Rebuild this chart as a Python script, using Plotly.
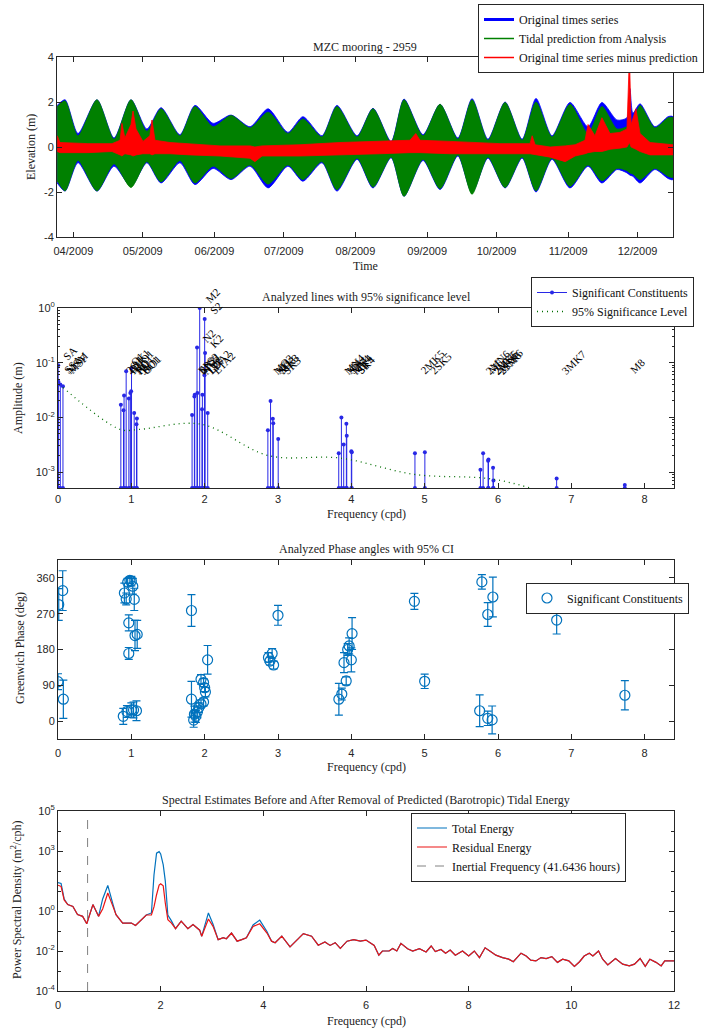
import math
import plotly.graph_objects as go

W, H = 718, 1030

# ---------------- Panel 1: time series envelopes (m) ----------------
env_dates = [
    "2009-03-25 00:00", "2009-03-28 10:00", "2009-04-03 00:00", "2009-04-11 05:00",
    "2009-04-18 14:00", "2009-04-25 22:00", "2009-05-02 19:00", "2009-05-08 22:00",
    "2009-05-17 02:00", "2009-05-23 14:00", "2009-05-31 10:00", "2009-06-08 05:00",
    "2009-06-16 10:00", "2009-06-24 05:00", "2009-07-02 19:00", "2009-07-09 07:00",
    "2009-07-17 12:00", "2009-07-24 00:00", "2009-08-01 17:00", "2009-08-08 14:00",
    "2009-08-16 10:00", "2009-08-22 00:00", "2009-08-30 05:00", "2009-09-06 14:00",
    "2009-09-14 07:00", "2009-09-20 10:00", "2009-09-27 07:00", "2009-10-04 17:00",
    "2009-10-12 02:00", "2009-10-18 02:00", "2009-10-25 00:00", "2009-11-01 19:00",
    "2009-11-09 14:00", "2009-11-15 14:00", "2009-11-22 02:00", "2009-11-26 10:00",
    "2009-11-27 17:00", "2009-11-29 00:00", "2009-12-02 02:00", "2009-12-08 12:00",
    "2009-12-14 05:00", "2009-12-16 07:00",
]
blue_upper = [1.85, 2.1, 0.6, 2.1, 0.4, 2.1, 0.8, 1.75, 0.55, 1.85, 1.05, 1.42, 0.9, 1.7,
              0.65, 1.35, 0.5, 1.85, 0.5, 1.72, 0.25, 2.13, 0.55, 1.9, 0.4, 2.15, 0.35, 2.0,
              0.35, 2.16, 0.5, 1.98, 0.9, 1.98, 1.2, 1.3, 2.6, 1.5, 1.92, 0.9, 1.35, 1.35]
blue_lower = [-1.6, -1.96, -0.7, -1.96, -0.85, -1.75, -0.7, -1.6, -0.7, -1.67, -0.95, -1.45,
              -0.85, -1.82, -0.85, -1.52, -0.7, -1.96, -0.55, -1.82, -0.48, -2.19, -0.6, -1.89,
              -0.4, -2.04, -0.5, -1.82, -0.5, -2.0, -0.55, -1.82, -0.85, -1.6, -1.0, -1.15,
              -1.25, -1.3, -1.6, -1.0, -1.4, -1.45]
green_upper = [1.8, 2.05, 0.5, 2.1, 0.35, 2.1, 0.7, 1.7, 0.5, 1.8, 0.9, 1.4, 0.85, 1.55,
               0.6, 1.25, 0.45, 1.8, 0.45, 1.7, 0.2, 2.1, 0.5, 1.9, 0.35, 2.1, 0.3, 1.98,
               0.3, 2.0, 0.45, 1.9, 0.6, 1.8, 0.8, 0.9, 1.0, 1.1, 1.85, 0.85, 1.3, 1.3]
green_lower = [-1.5, -1.95, -0.6, -1.95, -0.75, -1.8, -0.65, -1.55, -0.6, -1.6, -0.85, -1.4,
               -0.8, -1.65, -0.8, -1.45, -0.65, -1.9, -0.5, -1.78, -0.45, -2.19, -0.55, -1.85,
               -0.35, -2.1, -0.45, -1.8, -0.45, -1.95, -0.5, -1.75, -0.8, -1.5, -0.95, -1.05,
               -1.15, -1.2, -1.45, -0.95, -1.3, -1.35]

res_dates = [
    "2009-03-25 00:00", "2009-03-26 05:00", "2009-04-07 07:00", "2009-04-17 17:00",
    "2009-04-21 05:00", "2009-04-22 00:00", "2009-04-23 07:00", "2009-04-25 22:00",
    "2009-04-26 19:00", "2009-04-28 02:00", "2009-05-01 02:00", "2009-05-04 02:00",
    "2009-05-05 00:00", "2009-05-06 07:00", "2009-05-12 19:00", "2009-05-21 10:00",
    "2009-06-03 10:00", "2009-06-16 10:00", "2009-06-18 12:00", "2009-06-21 14:00",
    "2009-07-08 00:00", "2009-07-25 07:00", "2009-08-11 14:00", "2009-08-24 14:00",
    "2009-08-27 02:00", "2009-08-28 22:00", "2009-09-10 22:00", "2009-10-02 12:00",
    "2009-10-15 12:00", "2009-10-16 10:00", "2009-10-17 17:00", "2009-10-24 05:00",
    "2009-10-30 17:00", "2009-11-04 00:00", "2009-11-08 07:00", "2009-11-09 14:00",
    "2009-11-12 14:00", "2009-11-15 14:00", "2009-11-19 02:00", "2009-11-23 10:00",
    "2009-11-26 10:00", "2009-11-27 12:00", "2009-11-28 05:00", "2009-11-30 07:00",
    "2009-12-02 02:00", "2009-12-06 10:00", "2009-12-16 07:00",
]
red_upper = [0.5, 0.2, 0.15, 0.15, 0.3, 1.05, 0.4, 1.0, 1.6, 0.8, 0.25, 0.5, 1.2, 0.3, 0.2,
             0.15, 0.05, 0.05, 0.0, 0.05, 0.1, 0.2, 0.25, 0.3, 0.6, 0.3, 0.25, 0.15, 0.15,
             0.5, 0.1, 0.0, 0.05, 0.1, 0.3, 1.0, 0.5, 1.3, 0.6, 0.65, 0.8, 4.1, 1.0, 1.7,
             0.6, 0.2, 0.1]
red_lower = [-0.2, -0.25, -0.25, -0.2, -0.35, -0.4, -0.3, -0.35, -0.4, -0.35, -0.3, -0.3,
             -0.35, -0.3, -0.3, -0.35, -0.4, -0.5, -0.65, -0.4, -0.4, -0.35, -0.3, -0.25,
             -0.25, -0.25, -0.3, -0.3, -0.3, -0.3, -0.35, -0.45, -0.65, -0.4, -0.3, -0.25,
             -0.2, -0.2, -0.1, -0.05, 0.0, 0.2, 0.0, -0.1, -0.2, -0.35, -0.35]

month_ticks = ["2009-04-01", "2009-05-01", "2009-06-01", "2009-07-01", "2009-08-01",
               "2009-09-01", "2009-10-01", "2009-11-01", "2009-12-01"]
month_labels = ["04/2009", "05/2009", "06/2009", "07/2009", "08/2009",
                "09/2009", "10/2009", "11/2009", "12/2009"]
elev_ticks = [-4, -2, 0, 2, 4]
elev_labels = ["-4", "-2", "0", "2", "4"]

# ---------------- Panel 2: constituent amplitudes ----------------
const_names = ["SA", "SSA", "MSM", "MSF",
               "2Q1", "Q1", "RHO1", "O1", "NO1", "PI1", "P1", "K1", "J1", "SO1", "OO1",
               "EPS2", "2N2", "MU2", "N2", "NU2", "M2", "LDA2", "L2", "T2", "S2", "K2", "ETA2",
               "MO3", "M3", "SO3", "MK3", "SK3",
               "MN4", "M4", "SN4", "MS4", "MK4", "S4", "SK4",
               "2MK5", "2SK5",
               "2MN6", "M6", "2MS6", "2MK6", "2SM6", "MSK6",
               "3MK7", "M8"]
const_freq = [0.0027, 0.0055, 0.0314, 0.0677,
              0.8570, 0.8932, 0.9008, 0.9295, 0.9664, 0.9863, 0.9973, 1.0027, 1.0390, 1.0705, 1.0759,
              1.8283, 1.8597, 1.8645, 1.8960, 1.9008, 1.9323, 1.9637, 1.9686, 1.9973, 2.0000, 2.0055, 2.0415,
              2.8618, 2.8984, 2.9295, 2.9350, 3.0027,
              3.8283, 3.8645, 3.8960, 3.9323, 3.9377, 4.0000, 4.0055,
              4.8673, 5.0027,
              5.7608, 5.7971, 5.8648, 5.8703, 5.9325, 5.9380,
              6.7996, 7.7291]
const_amp = [0.09, 0.045, 0.04, 0.037,
             0.017, 0.0135, 0.025, 0.07, 0.022, 0.028, 0.03, 0.08, 0.012, 0.0075, 0.0095,
             0.011, 0.024, 0.026, 0.19, 0.028, 1.0, 0.014, 0.026, 0.059, 0.63, 0.15, 0.012,
             0.0058, 0.02, 0.0094, 0.0078, 0.004,
             0.0022, 0.0099, 0.0032, 0.0076, 0.0046, 0.0024, 0.0023,
             0.0022, 0.0023,
             0.0011, 0.0022, 0.0016, 0.0017, 0.0012, 0.0007,
             0.00076, 0.00058]
sig_freq = [0.07, 0.85, 1.1, 1.95, 2.87, 3.85, 4.87, 5.9, 6.8, 7.73]
sig_level = [0.035, 0.006, 0.006, 0.0075, 0.002, 0.0018, 0.0009, 0.00075, 0.0004, 0.0003]
amp_axis_min = 5.1e-4
label_floor = 0.05

# ---------------- Panel 3: phases ----------------
ph_freq = [0.01, 0.064, 0.0, 0.073,
           0.89, 0.94, 1.0, 1.03, 1.07, 0.905, 0.93, 0.95, 0.98, 1.0, 1.02, 1.04, 0.965, 0.965, 1.05, 1.08,
           1.82, 1.82, 1.85, 1.86, 1.88, 1.9, 1.92, 1.95, 1.985, 1.95, 1.985, 2.0, 2.01, 2.04,
           2.87, 2.89, 2.92, 2.94, 3.0,
           3.83, 3.87, 3.9, 3.93, 3.95, 3.97, 4.0, 4.01,
           4.86, 5.0,
           5.78, 5.93, 5.86, 5.75, 5.86, 5.92,
           6.8, 7.73]
ph_deg = [293, 328, 99, 55,
          12, 24, 28, 28, 26, 322, 307, 349, 354, 352, 339, 306, 247, 170, 215, 218,
          278, 55, 2.5, 17.5, 12, 23, 34, 43, 48, 105, 97, 84, 73, 154,
          160, 151, 170, 141, 266,
          55, 68, 147, 101, 180, 189, 154, 220,
          301, 100,
          350, 312, 268, 26, 7, 3,
          254, 65]
ph_err = [40, 50, 20, 48,
          20, 15, 18, 20, 25, 25, 15, 10, 8, 12, 20, 28, 20, 15, 38, 35,
          40, 45, 18, 20, 15, 15, 12, 10, 10, 12, 10, 10, 12, 36,
          12, 10, 12, 10, 25,
          40, 15, 25, 10, 15, 20, 30, 40,
          20, 18,
          18, 50, 30, 40, 18, 35,
          35, 37]

# ---------------- Panel 4: spectra ----------------
spec_freq = [0.0, 0.06, 0.12, 0.19, 0.29, 0.38, 0.48, 0.56, 0.68, 0.79, 0.87, 0.97, 1.07, 1.13,
             1.26, 1.43, 1.51, 1.62, 1.72, 1.82, 1.87, 1.92, 1.97, 2.0, 2.05, 2.09, 2.14, 2.21,
             2.29, 2.4, 2.53, 2.63, 2.76, 2.8, 2.93, 3.02, 3.12, 3.22, 3.28, 3.38, 3.49, 3.58,
             3.67, 3.8, 3.93, 4.07, 4.16, 4.23, 4.36, 4.52, 4.65, 4.78, 4.94, 5.07, 5.2, 5.3,
             5.4, 5.5, 5.63, 5.76, 5.89, 6.0, 6.16, 6.25, 6.32, 6.45, 6.52, 6.6, 6.68, 6.81,
             6.91, 7.04, 7.17, 7.27, 7.35, 7.46, 7.55, 7.64, 7.74, 7.88, 8.0, 8.11, 8.21, 8.32,
             8.44, 8.53, 8.66, 8.78, 8.87, 9.02, 9.12, 9.21, 9.31, 9.41, 9.51, 9.62, 9.73, 9.83,
             9.95, 10.06, 10.16, 10.25, 10.35, 10.42, 10.53, 10.61, 10.71, 10.86, 11.0, 11.13,
             11.23, 11.34, 11.44, 11.53, 11.65, 11.75, 11.82, 12.0]
psd_residual = [19.5, 17, 3.6, 2.1, 1.7, 0.66, 0.54, 0.23, 2.1, 0.54, 1.26, 7.9, 1.7, 0.66,
                0.25, 0.25, 0.19, 0.37, 0.63, 0.63, 1.6, 6.5, 20, 23, 18, 2.5, 0.37, 0.25,
                0.13, 0.31, 0.13, 0.21, 0.11, 0.055, 0.4, 0.17, 0.037, 0.046, 0.041, 0.079, 0.031, 0.037,
                0.046, 0.17, 0.23, 0.079, 0.031, 0.026, 0.055, 0.016, 0.035, 0.074, 0.055, 0.0195, 0.028, 0.019,
                0.026, 0.0135, 0.031, 0.037, 0.031, 0.035, 0.019, 0.0062, 0.01, 0.01, 0.0135, 0.01, 0.024, 0.013,
                0.01, 0.013, 0.0089, 0.0178, 0.0093, 0.012, 0.0078, 0.0112, 0.0062, 0.01, 0.0056, 0.01, 0.0047, 0.0145,
                0.0089, 0.0062, 0.0047, 0.0039, 0.0029, 0.0078, 0.0056, 0.0035, 0.0032, 0.0047, 0.0042, 0.0052, 0.0027, 0.0039,
                0.0032, 0.0017, 0.0029, 0.0056, 0.0078, 0.0056, 0.01, 0.0039, 0.002, 0.0042, 0.0022, 0.0018,
                0.0022, 0.0042, 0.0017, 0.0039, 0.0027, 0.0018, 0.0032, 0.0032]
psd_total = [26.3, 24, 4.0, 2.1, 1.7, 0.66, 0.54, 0.23, 2.1, 0.54, 4.0, 19, 2.2, 0.66,
             0.25, 0.25, 0.19, 0.37, 0.63, 0.8, 63, 780, 930, 710, 200, 32, 0.63, 0.32,
             0.13, 0.31, 0.13, 0.21, 0.11, 0.055, 0.8, 0.22, 0.037, 0.046, 0.041, 0.079, 0.031, 0.037,
             0.046, 0.2, 0.35, 0.095, 0.031, 0.026, 0.055, 0.016, 0.035, 0.074, 0.055, 0.0195, 0.028, 0.019,
             0.026, 0.0135, 0.031, 0.037, 0.031, 0.035, 0.019, 0.0062, 0.01, 0.01, 0.0135, 0.01, 0.024, 0.013,
             0.01, 0.013, 0.0089, 0.0178, 0.0093, 0.012, 0.0078, 0.0112, 0.0062, 0.01, 0.0056, 0.01, 0.0047, 0.0145,
             0.0089, 0.0062, 0.0047, 0.0039, 0.0029, 0.0078, 0.0056, 0.0035, 0.0032, 0.0047, 0.0042, 0.0052, 0.0027, 0.0039,
             0.0032, 0.0017, 0.0029, 0.0056, 0.0078, 0.0056, 0.01, 0.0039, 0.002, 0.0042, 0.0022, 0.0018,
             0.0022, 0.0042, 0.0017, 0.0039, 0.0027, 0.0018, 0.0032, 0.0032]
inertial_period_hours = 41.6436
psd_major_ticks = [1e5, 1e3, 1, 1e-2, 1e-4]
psd_major_labels = ["10<sup>5</sup>", "10<sup>3</sup>", "10<sup>0</sup>", "10<sup>-2</sup>", "10<sup>-4</sup>"]
psd_minor_ticks = [1e4, 1e2, 1e1, 1e-1, 1e-3]
amp_ticks = [1, 0.1, 0.01, 0.001]
amp_labels = ["10<sup>0</sup>", "10<sup>-1</sup>", "10<sup>-2</sup>", "10<sup>-3</sup>"]

# ---------------- styling ----------------
SERIF = "Liberation Serif, DejaVu Serif, serif"
SANS = "Liberation Sans, Arial, sans-serif"
AX = "#262626"
MBLUE = "#0072BD"


def px(x):
    return x / W


def py(y):
    return 1 - y / H


fig = go.Figure()


def band(dates, up, lo, color, shape):
    return go.Scatter(x=dates + dates[::-1], y=up + lo[::-1], fill="toself",
                      fillcolor=color, mode="lines",
                      line=dict(color=color, width=0.8, shape=shape, smoothing=0.7),
                      showlegend=False, hoverinfo="skip", xaxis="x", yaxis="y")


fig.add_trace(band(env_dates, blue_upper, blue_lower, "rgb(0,0,255)", "spline"))
fig.add_trace(band(env_dates, green_upper, green_lower, "rgb(0,128,0)", "spline"))
fig.add_trace(band(res_dates, red_upper, red_lower, "rgb(255,0,0)", "linear"))
for name, col, wid in [("Original times series", "rgb(0,0,255)", 3),
                       ("Tidal prediction from Analysis", "rgb(0,128,0)", 1.5),
                       ("Original time series minus prediction", "rgb(255,0,0)", 1.5)]:
    fig.add_trace(go.Scatter(x=[None], y=[None], mode="lines", name=name,
                             line=dict(color=col, width=wid), xaxis="x", yaxis="y",
                             legend="legend"))

# Panel 2 stems
sx, sy = [], []
for f, a in zip(const_freq, const_amp):
    sx += [f, f, None]
    sy += [amp_axis_min, a, None]
fig.add_trace(go.Scatter(x=sx, y=sy, mode="lines+markers", name="Significant Constituents",
                         line=dict(color="rgb(40,40,230)", width=1),
                         marker=dict(size=4, color="rgb(40,40,230)"),
                         xaxis="x2", yaxis="y2", legend="legend2"))
fig.add_trace(go.Scatter(x=sig_freq, y=sig_level, mode="lines", name="95% Significance Level",
                         line=dict(color="rgb(0,110,0)", width=1.3, dash="1px,4px", shape="spline"),
                         xaxis="x2", yaxis="y2", legend="legend2"))

# Panel 3 phases
fig.add_trace(go.Scatter(x=ph_freq, y=ph_deg, mode="markers", name="Significant Constituents",
                         marker=dict(symbol="circle-open", size=10, color=MBLUE, line=dict(width=1.2)),
                         error_y=dict(type="data", array=ph_err, color=MBLUE, thickness=1.2, width=4),
                         xaxis="x3", yaxis="y3", legend="legend3"))

# Panel 4 spectra
fig.add_trace(go.Scatter(x=spec_freq, y=psd_total, mode="lines", name="Total Energy",
                         line=dict(color=MBLUE, width=1.2), xaxis="x4", yaxis="y4", legend="legend4"))
fig.add_trace(go.Scatter(x=spec_freq, y=psd_residual, mode="lines", name="Residual Energy",
                         line=dict(color="rgb(235,20,20)", width=1.2), xaxis="x4", yaxis="y4", legend="legend4"))
f_inertial = 24.0 / inertial_period_hours
fig.add_trace(go.Scatter(x=[f_inertial, f_inertial], y=[1e-4, 1e5], mode="lines",
                         name="Inertial Frequency (%.4f hours)" % inertial_period_hours,
                         line=dict(color="rgb(130,130,130)", width=1, dash="dash"),
                         xaxis="x4", yaxis="y4", legend="legend4"))

tickfont = dict(family=SANS, size=11, color=AX)
common = dict(showline=True, linecolor=AX, linewidth=1, mirror="ticks", ticks="inside",
              ticklen=5, tickcolor=AX, showgrid=False, zeroline=False, tickfont=tickfont,
              automargin=False)

p1 = (57, 673, 57, 237)
p2 = (58, 674, 308, 488)
p3 = (58, 674, 560, 739)
p4 = (58, 674, 811, 991)


def dom(p):
    return [px(p[0]), px(p[1])], [py(p[3]), py(p[2])]


xd1, yd1 = dom(p1)
xd2, yd2 = dom(p2)
xd3, yd3 = dom(p3)
xd4, yd4 = dom(p4)

fig.update_layout(
    width=W, height=H, margin=dict(l=0, r=0, t=0, b=0, autoexpand=False),
    paper_bgcolor="white", plot_bgcolor="white",
    xaxis=dict(domain=xd1, anchor="y", type="date",
               range=["2009-03-24 22:00", "2009-12-16 08:00"],
               tickmode="array", tickvals=month_ticks, ticktext=month_labels,
               ticklabelstandoff=4, **common),
    yaxis=dict(domain=yd1, anchor="x", range=[-4, 4], tickmode="array",
               tickvals=elev_ticks, ticktext=elev_labels, **common),
    xaxis2=dict(domain=xd2, anchor="y2", range=[0, 8.4], dtick=1, ticklabelstandoff=1, **common),
    yaxis2=dict(domain=yd2, anchor="x2", type="log",
                range=[math.log10(amp_axis_min), 0], tickmode="array",
                tickvals=amp_ticks, ticktext=amp_labels,
                minor=dict(ticks="inside", ticklen=2, tickcolor=AX, dtick="D1", showgrid=False),
                **common),
    xaxis3=dict(domain=xd3, anchor="y3", range=[0, 8.4], dtick=1, ticklabelstandoff=4, **common),
    yaxis3=dict(domain=yd3, anchor="x3", range=[-45, 405], tickmode="array",
                tickvals=[0, 90, 180, 270, 360], **common),
    xaxis4=dict(domain=xd4, anchor="y4", range=[0, 12], dtick=2, ticklabelstandoff=4, **common),
    yaxis4=dict(domain=yd4, anchor="x4", type="log", range=[-4, 5], tickmode="array",
                tickvals=psd_major_ticks, ticktext=psd_major_labels,
                minor=dict(ticks="inside", ticklen=3, tickcolor=AX, tickmode="array",
                           tickvals=psd_minor_ticks, showgrid=False),
                **common),
)

legend_common = dict(bgcolor="white", bordercolor=AX, borderwidth=1,
                     font=dict(family=SERIF, size=12, color="#111"),
                     xanchor="left", tracegroupgap=0)
fig.update_layout(
    legend=dict(x=px(478), y=py(4), yanchor="top", **legend_common),
    legend2=dict(x=px(531), y=py(302), yanchor="middle", **legend_common),
    legend3=dict(x=px(526), y=py(598), yanchor="middle", **legend_common),
    legend4=dict(x=px(411), y=py(847), yanchor="middle", **legend_common),
)

ann = []
tfont = dict(family=SERIF, size=12, color="#222")
for text, x, y in [("MZC mooring - 2959", 365, 47),
                   ("Analyzed lines with 95% significance level", 366, 297),
                   ("Analyzed Phase angles with 95% CI", 366, 549),
                   ("Spectral Estimates Before and After Removal of Predicted (Barotropic) Tidal Energy", 366, 800),
                   ("Time", 365, 266),
                   ("Frequency (cpd)", 366, 514),
                   ("Frequency (cpd)", 366, 767),
                   ("Frequency (cpd)", 366, 1021)]:
    ann.append(dict(text=text, x=px(x), y=py(y), xref="paper", yref="paper",
                    showarrow=False, font=tfont, xanchor="center", yanchor="middle"))
for text, x, y in [("Elevation (m)", 31, 147),
                   ("Amplitude (m)", 18, 398),
                   ("Greenwich Phase (deg)", 20, 648),
                   ("Power Spectral Density (m<sup>2</sup>/cph)", 16, 900)]:
    ann.append(dict(text=text, x=px(x), y=py(y), xref="paper", yref="paper",
                    showarrow=False, font=tfont, textangle=-90,
                    xanchor="center", yanchor="middle"))
for name, f, a in zip(const_names, const_freq, const_amp):
    ann.append(dict(text=name, x=f, y=math.log10(max(a, label_floor)), xref="x2", yref="y2",
                    showarrow=False, textangle=-45, xanchor="left", yanchor="bottom",
                    font=dict(family=SERIF, size=11, color="#000")))
fig.update_layout(annotations=ann)

fig.write_html("out.html", config={"displayModeBar": False},
               post_script="document.body.style.margin='0px';document.body.style.overflow='hidden';")
